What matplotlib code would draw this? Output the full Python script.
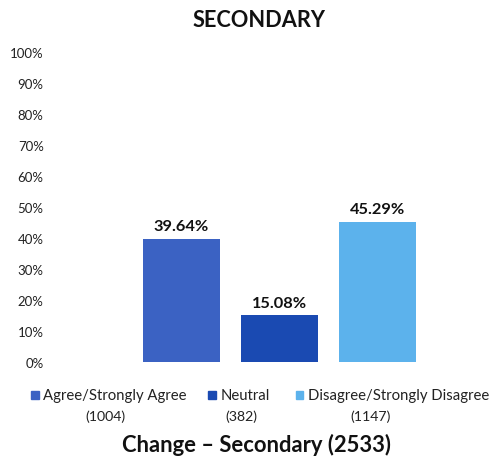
import matplotlib
matplotlib.use("Agg")
import matplotlib.pyplot as plt
from matplotlib.patches import Rectangle

categories = ["Agree/Strongly Agree", "Neutral", "Disagree/Strongly Disagree"]
counts = [1004, 382, 1147]
percents = [39.64, 15.08, 45.29]
colors = ["#3b62c3", "#1a4ab2", "#5cb2ec"]
yticks = list(range(0, 101, 10))

plt.rcParams['font.family'] = ['Lato', 'DejaVu Sans']

fig = plt.figure(figsize=(4.91, 4.6), dpi=100)
ax = fig.add_axes([0.27, 0.211, 0.599, 0.674])

x = range(len(categories))
ax.bar(x, percents, width=0.79, color=colors)
for i, p in enumerate(percents):
    ax.text(i, p + 1.8, "%.2f%%" % p, ha="center", va="bottom",
            fontsize=11.8, fontweight="bold", color="#111111")

ax.set_xlim(-0.5, 2.5)
ax.set_ylim(0, 100)
ax.set_yticks(yticks)
ax.set_yticklabels(["%d%%" % t for t in yticks], fontsize=9.5, color="#222222")
ax.tick_params(axis="y", length=0, pad=64)
ax.set_xticks([])
for s in ax.spines.values():
    s.set_visible(False)

fig.text(0.527, 0.956, "SECONDARY", ha="center", va="center",
         fontsize=15.7, fontweight="bold", color="#111111")

# legend drawn by hand: marker, name, count below
leg_x = [0.063, 0.424, 0.602]
count_x = [0.214, 0.491, 0.754]
for i, cat in enumerate(categories):
    fig.patches.append(Rectangle((leg_x[i], 0.131), 0.016, 0.017,
                                 transform=fig.transFigure, color=colors[i]))
    fig.text(leg_x[i] + 0.025, 0.139, cat, ha="left", va="center",
             fontsize=10.7, color="#222222")
    fig.text(count_x[i], 0.094, "(%d)" % counts[i], ha="center", va="center",
             fontsize=10.2, color="#222222")

fig.text(0.522, 0.033, "Change \u2013 Secondary (%d)" % sum(counts), ha="center",
         va="center", fontsize=15.8, fontweight="bold", color="#111111")

fig.savefig("out.png", dpi=100)
